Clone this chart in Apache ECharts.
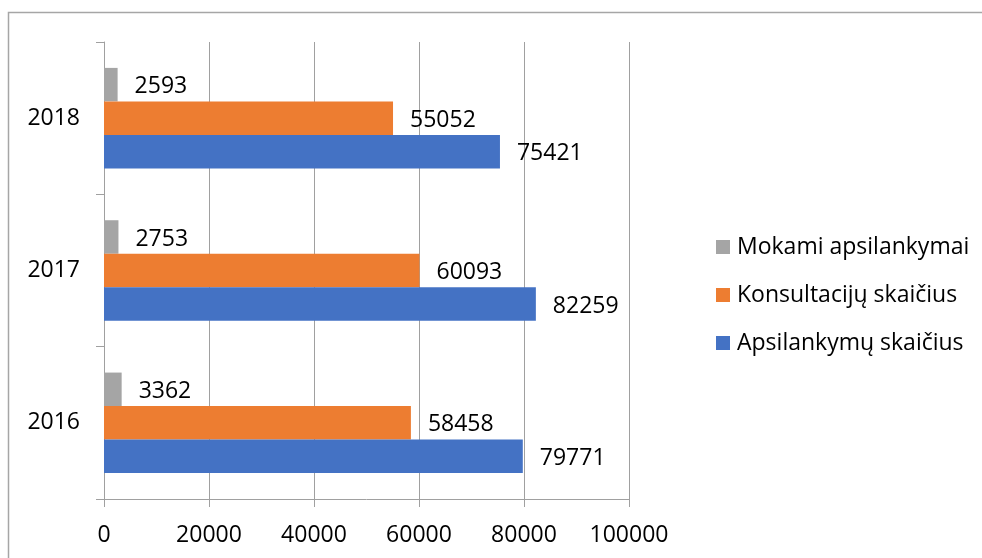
<!DOCTYPE html>
<html>
<head>
<meta charset="utf-8">
<script src="https://cdn.jsdelivr.net/npm/echarts@6/dist/echarts.min.js"></script>
<style>html,body{margin:0;padding:0;background:#fff}#c{width:982px;height:558px}</style>
</head>
<body>
<div id="c"></div>
<script>
const categories = ['2016', '2017', '2018'];
const apsilankymu = [79771, 82259, 75421];
const konsultaciju = [58458, 60093, 55052];
const mokami = [3362, 2753, 2593];
const xTicks = [0, 20000, 40000, 60000, 80000, 100000];
const seriesNames = ['Apsilankymų skaičius', 'Konsultacijų skaičius', 'Mokami apsilankymai'];

const FONT = '"Open Sans", sans-serif';
const chart = echarts.init(document.getElementById('c'), null, {renderer: 'canvas'});
const lbl = {show: true, position: 'right', distance: 17, offset: [0, 2], color: '#000', fontSize: 23, fontFamily: FONT};
chart.setOption({
  animation: false,
  backgroundColor: '#fff',
  graphic: [{type: 'rect', shape: {x: 8.5, y: 12.5, width: 1100, height: 700}, style: {fill: 'none', stroke: '#a6a6a6', lineWidth: 1.5}, silent: true}],
  grid: {left: 104, right: 353, top: 42, bottom: 59, containLabel: false},
  legend: {
    orient: 'vertical', left: 711, top: 229,
    data: [seriesNames[2], seriesNames[1], seriesNames[0]],
    itemWidth: 14, itemHeight: 14, itemGap: 22, icon: 'rect',
    textStyle: {fontSize: 23, fontFamily: FONT, color: '#000', lineHeight: 26, padding: [0, 0, 0, 2]}
  },
  xAxis: {
    type: 'value', min: xTicks[0], max: xTicks[xTicks.length - 1], interval: xTicks[1] - xTicks[0],
    axisLine: {show: true, lineStyle: {color: '#a0a0a0', width: 1}},
    axisTick: {show: true, length: 8, lineStyle: {color: '#a0a0a0'}},
    splitLine: {show: true, lineStyle: {color: '#a0a0a0', width: 1}},
    axisLabel: {color: '#000', fontSize: 23, fontFamily: FONT, margin: 25, formatter: v => String(v)}
  },
  yAxis: {
    type: 'category', data: categories,
    axisLine: {show: true, lineStyle: {color: '#a0a0a0', width: 1}},
    axisTick: {show: true, length: 8, lineStyle: {color: '#a0a0a0'}},
    axisLabel: {color: '#000', fontSize: 23, fontFamily: FONT, margin: 24}
  },
  series: [
    {name: seriesNames[2], type: 'bar', data: mokami, itemStyle: {color: '#a5a5a5'}, barGap: '0%', barCategoryGap: '34%', label: lbl},
    {name: seriesNames[1], type: 'bar', data: konsultaciju, itemStyle: {color: '#ed7d31'}, barGap: '0%', barCategoryGap: '34%', label: lbl},
    {name: seriesNames[0], type: 'bar', data: apsilankymu, itemStyle: {color: '#4472c4'}, barGap: '0%', barCategoryGap: '34%', label: lbl}
  ]
});
</script>
</body>
</html>
